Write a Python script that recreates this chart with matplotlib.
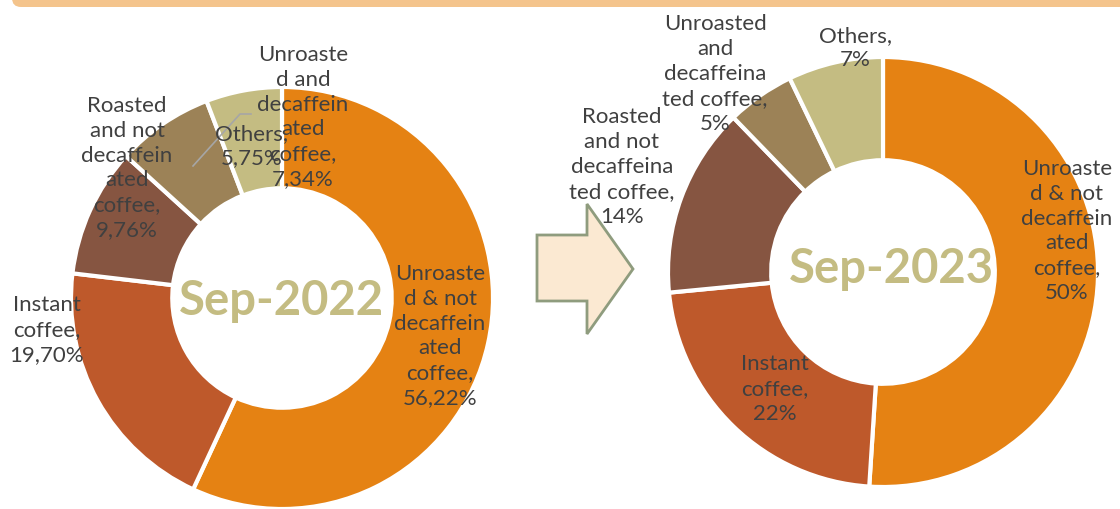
import matplotlib.pyplot as plt
from matplotlib.patches import FancyBboxPatch, Polygon

plt.rcParams['font.family'] = ['Lato', 'DejaVu Sans']

# data
categories = ["Unroasted & not decaffeinated coffee", "Instant coffee",
              "Roasted and not decaffeinated coffee",
              "Unroasted and decaffeinated coffee", "Others"]
share_2022 = [56.22, 19.70, 9.76, 7.34, 5.75]
share_2023 = [50, 22, 14, 5, 7]
labels_2022 = ["Unroaste\nd & not\ndecaffein\nated\ncoffee,\n56,22%",
               "Instant\ncoffee,\n19,70%",
               "Roasted\nand not\ndecaffein\nated\ncoffee,\n9,76%",
               "Unroaste\nd and\ndecaffein\nated\ncoffee,\n7,34%",
               "Others,\n5,75%"]
labels_2023 = ["Unroaste\nd & not\ndecaffein\nated\ncoffee,\n50%",
               "Instant\ncoffee,\n22%",
               "Roasted\nand not\ndecaffeina\nted coffee,\n14%",
               "Unroasted\nand\ndecaffeina\nted coffee,\n5%",
               "Others,\n7%"]
colors = ["#E58213", "#BE592B", "#865541", "#9C8257", "#C4BC82"]

W, H = 1120, 510
fig = plt.figure(figsize=(W / 100, H / 100), dpi=100)
ax = fig.add_axes([0, 0, 1, 1])

def donut(values, cx, cy, r):
    ax.pie(values, colors=colors, startangle=90, counterclock=False,
           center=(cx, H - cy), radius=r,
           wedgeprops=dict(width=r * 0.48, edgecolor="white", linewidth=3))

donut(share_2022, 282, 299, 211)
donut(share_2023, 883, 273, 215)

# label positions (image pixels, centre of text block)
pos_2022 = [(440, 336), (47, 330), (127, 168), (303, 117), (252, 146)]
pos_2023 = [(1067, 231), (775, 389), (622, 167), (715, 74), (855, 48)]
for labs, pos in ((labels_2022, pos_2022), (labels_2023, pos_2023)):
    for t, (x, y) in zip(labs, pos):
        ax.text(x, H - y, t, ha="center", va="center", fontsize=16,
                color="#404040", linespacing=1.3)

# leader line for "Others" in 2022
ax.plot([251, 240, 193], [H - 115, H - 115, H - 167], color="#A6A6A6", lw=1.2)

ax.text(281, H - 315, "Sep-2022", ha="center", va="baseline", fontsize=34,
        fontweight="bold", color="#C4BC82")
ax.text(891, H - 283, "Sep-2023", ha="center", va="baseline", fontsize=34,
        fontweight="bold", color="#C4BC82")

# arrow between the two charts
arrow = [(537, 236), (587, 236), (587, 205), (633, 270), (587, 335),
         (587, 302), (537, 302)]
ax.add_patch(Polygon([(x, H - y) for x, y in arrow], closed=True,
                     facecolor="#FBE9D2", edgecolor="#8F9C7E", lw=2))

# orange band at the top
ax.add_patch(FancyBboxPatch((12, H - 8), W + 40, 40,
                            boxstyle="round,pad=0,rounding_size=9",
                            facecolor="#F4C48C", edgecolor="none"))

ax.set_xlim(0, W)
ax.set_ylim(0, H)
ax.set_aspect("auto")
ax.axis("off")

fig.savefig("out.png", dpi=100)
